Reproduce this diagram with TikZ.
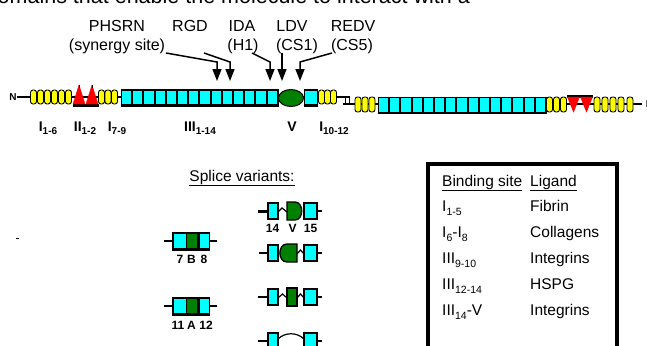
\documentclass[tikz,border=0pt]{standalone}
\usepackage{fontspec}
\setmainfont{Liberation Sans}
\usetikzlibrary{arrows.meta,shapes.geometric}
\definecolor{fncyan}{RGB}{0,255,255}
\definecolor{fnyellow}{RGB}{255,255,0}
\definecolor{fnred}{RGB}{255,0,0}
\definecolor{fngreen}{RGB}{0,128,0}
\newcommand\lbsub[1]{\raisebox{-0.45ex}{\fontsize{10}{10}\selectfont #1}}
\newcommand\tbsub[1]{\raisebox{-0.5ex}{\fontsize{10.5}{10.5}\selectfont #1}}
\begin{document}
\begin{tikzpicture}[x=1pt,y=-1pt,
  ymod/.style={draw=black,line width=0.9pt,fill=fnyellow,rounded corners=2.5pt,minimum width=6pt,minimum height=14pt,inner sep=0pt},
  ymodb/.style={ymod,minimum height=15pt},
  strand/.style={line width=1.2pt},
  toplab/.style={font=\fontsize{16}{16}\selectfont,inner sep=0pt,anchor=base},
  chlab/.style={font=\bfseries\fontsize{14}{14}\selectfont,inner sep=0pt,anchor=base},
  numlab/.style={font=\bfseries\fontsize{12}{12}\selectfont,inner sep=0pt,anchor=base},
  tabtxt/.style={font=\fontsize{15.5}{15.5}\selectfont,inner sep=0pt,anchor=base west},
  pointer/.style={line width=1.5pt,-{Triangle[width=9pt,length=12pt]}},
  wig/.style={line width=1.2pt},
  cbord/.style={fill=fncyan,draw=black,line width=1.3pt},
  gbord/.style={fill=fngreen,draw=black,line width=1.3pt}]
\clip (0,0) rectangle (647,345);
\fill[white] (0,0) rectangle (647,345);

% clipped sentence at the top
\node[font=\fontsize{21.5}{21.5}\selectfont,inner sep=0pt,anchor=base east] (sent) at (470,3.5) {domains that enable the molecule to interact with a};

% ---------- top labels ----------
\node[toplab] (phsrn) at (117,32) {PHSRN};
\node[toplab] (rgd) at (190,32) {RGD};
\node[toplab] (ida) at (242,32) {IDA};
\node[toplab] (ldv) at (292,32) {LDV};
\node[toplab] (redv) at (353,32) {REDV};
\node[toplab] (syn) at (117,50) {(synergy site)};
\node[toplab] (h1) at (243,50) {(H1)};
\node[toplab] (cs1) at (297,50) {(CS1)};
\node[toplab] (cs5) at (352,50) {(CS5)};

\coordinate (sa) at (166,53); \coordinate (sb) at (217,62); \coordinate (sc) at (217,81);
\coordinate (ra) at (204,53); \coordinate (rb) at (230,62); \coordinate (rc) at (230,81);
\coordinate (ia) at (252,53); \coordinate (ib) at (270,62); \coordinate (ic) at (270,81);
\coordinate (la) at (282,53); \coordinate (lc) at (282,81);
\coordinate (ea) at (332,53); \coordinate (eb) at (300,62); \coordinate (ec) at (300,81);
\draw[pointer] (sa) -- (sb) -- (sc);
\draw[pointer] (ra) -- (rb) -- (rc);
\draw[pointer] (ia) -- (ib) -- (ic);
\draw[pointer] (la) -- (lc);
\draw[pointer] (ea) -- (eb) -- (ec);

% ---------- chain 1 ----------
\node[font=\bfseries\fontsize{10}{10}\selectfont,inner sep=0pt] (nterm) at (13,97) {N};
\draw[strand] (nterm.east) -- (350,97);
\foreach \i/\x in {1/33.5,2/40.5,3/47.5,4/54.5,5/61.5,6/68.5}
  \node[ymod] (ya\i) at (\x,97) {};
\fill[black] (72.5,103.5) rectangle (98.5,106.5);
\filldraw[fill=fnred,draw=fnred] (73,104) -- (79,85) -- (85,104) -- cycle;
\filldraw[fill=fnred,draw=fnred] (86,104) -- (92,85) -- (98,104) -- cycle;
\draw[line width=1pt] (79,85) -- (79,88) (92,85) -- (92,88);
\foreach \i/\x in {7/101.5,8/108,9/114.5}
  \node[ymod] (ya\i) at (\x,97) {};
\fill[black] (120.5,89) rectangle (279,107);
\foreach \i in {0,...,13}
  \fill[fncyan] (122+11.2*\i,90.5) rectangle +(9.2,13.5);
\filldraw[fill=fngreen,draw=black,line width=1pt] (291,98) ellipse [x radius=12.5pt, y radius=8.5pt];
\fill[black] (304,89) rectangle (318,107);
\fill[fncyan] (305.3,90.5) rectangle (316.5,104);
\foreach \i/\x in {10/321.5,11/327.5,12/333.5}
  \node[ymod] (ya\i) at (\x,97) {};

% disulfide link
\draw[strand] (343,104) -- (642,104);
\draw[line width=1.3pt] (345.5,97) -- (345.5,104) (349.5,97) -- (349.5,104);

% ---------- chain 2 ----------
\foreach \i/\x in {1/358,2/365,3/372}
  \node[ymodb] (yb\i) at (\x,104.5) {};
\fill[black] (377.5,96.5) rectangle (546.5,113.5);
\foreach \i in {0,...,14}
  \fill[fncyan] (379+11.2*\i,98) rectangle +(9.2,13.5);
\foreach \i/\x in {4/549.5,5/556.5,6/563.5}
  \node[ymodb] (yb\i) at (\x,104.5) {};
\fill[black] (566.5,95) rectangle (593,97.5);
\filldraw[fill=fnred,draw=fnred] (567.5,97) -- (579.5,97) -- (573.5,112) -- cycle;
\filldraw[fill=fnred,draw=fnred] (580.5,97) -- (592.5,97) -- (586.5,112) -- cycle;
\foreach \i/\x in {7/597,8/605,9/613,10/621,11/630}
  \node[ymodb] (yb\i) at (\x,104.5) {};
\node[font=\bfseries\fontsize{10}{10}\selectfont,inner sep=0pt] (nterm2) at (649.5,104) {N};

% ---------- chain labels ----------
\node[chlab] (l1) at (48,131) {I\lbsub{1-6}};
\node[chlab] (l2) at (85,131) {II\lbsub{1-2}};
\node[chlab] (l3) at (117,131) {I\lbsub{7-9}};
\node[chlab] (l4) at (200,131) {III\lbsub{1-14}};
\node[chlab] (l5) at (292,131) {V};
\node[chlab] (l6) at (334,131) {I\lbsub{10-12}};

% stray mark
\fill[black] (16,237.5) rectangle (19,239);

% ---------- splice variants ----------
\node[font=\fontsize{15.5}{15.5}\selectfont,inner sep=0pt,anchor=base] (splh) at (242,181) {\underline{Splice variants:}};

\foreach \n/\Y in {a/241,b/306}{
  \draw[strand] (164,\Y) -- (217,\Y);
  \fill[black] (172,\Y-9) rectangle (210,\Y+9.5);
  \fill[fncyan] (173.5,\Y-7.5) rectangle (185.5,\Y+7);
  \fill[fngreen] (186.5,\Y-7.5) rectangle (196.5,\Y+7);
  \fill[fncyan] (200,\Y-7.5) rectangle (208.5,\Y+7);
}
\node[numlab] (v7) at (180,263) {7};
\node[numlab] (vB) at (191.5,263) {B};
\node[numlab] (v8) at (204,263) {8};
\node[numlab] (v11) at (178,329) {11};
\node[numlab] (vA) at (191.5,329) {A};
\node[numlab] (v12) at (206,329) {12};

% variant 1 (Y = 211)
\draw[line width=3pt] (258,211) -- (268,211);
\draw[strand] (317,211) -- (322,211);
\draw[wig] (278,212) -- (282,208) -- (287,212);
\filldraw[cbord] (268,203) rectangle (278,219);
\filldraw[gbord] (287,202) -- (295,202) .. controls (304,202) and (304,220) .. (295,220) -- (287,220) -- cycle;
\filldraw[cbord] (304,203) rectangle (317,219);
\node[numlab] (v14) at (272.5,232) {14};
\node[numlab] (vV) at (292.5,232) {V};
\node[numlab] (v15) at (310.5,232) {15};

% variant 2 (Y = 253)
\draw[strand] (259,253) -- (268,253);
\draw[strand] (317,253) -- (322,253);
\draw[wig] (297,254) -- (300.5,250) -- (304,254);
\filldraw[cbord] (268,245) rectangle (278,261);
\filldraw[gbord] (297,244) -- (287,244) .. controls (277.5,244) and (277.5,262) .. (287,262) -- (297,262) -- cycle;
\filldraw[cbord] (304,245) rectangle (317,261);

% variant 3 (Y = 297)
\draw[strand] (258,297) -- (268,297);
\draw[strand] (317,297) -- (322,297);
\draw[wig] (278,298) -- (282.5,294) -- (287,298);
\draw[wig] (297,298) -- (300.5,294) -- (304,298);
\filldraw[cbord] (268,289) rectangle (278,305);
\filldraw[gbord] (287,288) rectangle (297,306);
\filldraw[cbord] (304,289) rectangle (317,305);

% variant 4 (Y = 341)
\draw[strand] (258,341) -- (268,341);
\draw[strand] (317,341) -- (322,341);
\draw[wig] (278,339) .. controls (285,332) and (297,332) .. (304,339);
\filldraw[cbord] (268,333) rectangle (278,349);
\filldraw[cbord] (304,333) rectangle (317,349);

% ---------- table ----------
\draw[line width=4pt] (428,164) rectangle (617,370);
\node[tabtxt] (th1) at (442,186) {\underline{Binding site}};
\node[tabtxt] (th2) at (530,186) {\underline{Ligand}};
\node[tabtxt] (r1a) at (442,211) {I\tbsub{1-5}};
\node[tabtxt] (r1b) at (530,211) {Fibrin};
\node[tabtxt] (r2a) at (442,237) {I\tbsub{6}-I\tbsub{8}};
\node[tabtxt] (r2b) at (530,237) {Collagens};
\node[tabtxt] (r3a) at (442,263) {III\tbsub{9-10}};
\node[tabtxt] (r3b) at (530,263) {Integrins};
\node[tabtxt] (r4a) at (442,289) {III\tbsub{12-14}};
\node[tabtxt] (r4b) at (530,289) {HSPG};
\node[tabtxt] (r5a) at (442,315) {III\tbsub{14}-V};
\node[tabtxt] (r5b) at (530,315) {Integrins};
\end{tikzpicture}
\end{document}
